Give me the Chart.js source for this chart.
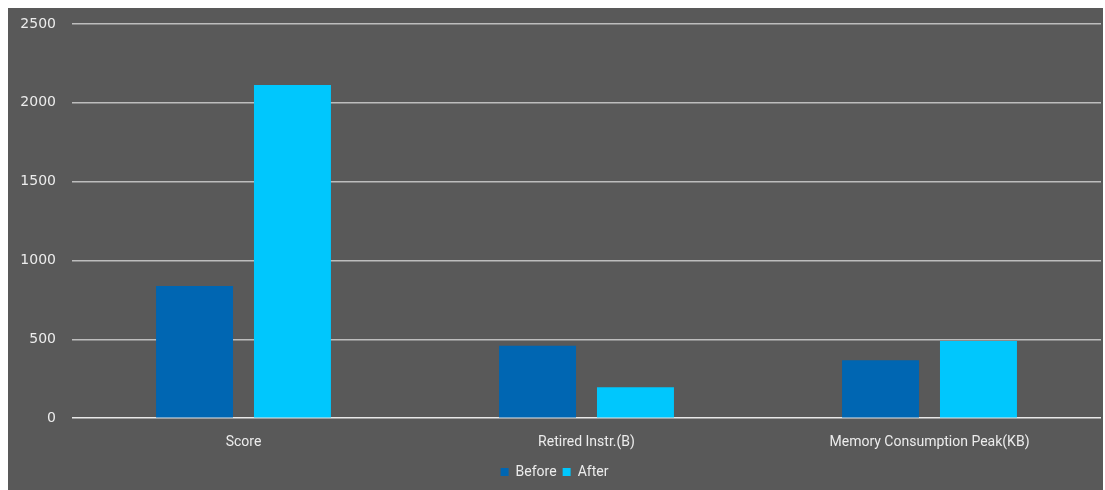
<!DOCTYPE html>
<html>
<head>
<meta charset="utf-8">
<script src="https://cdn.jsdelivr.net/npm/chart.js@4.4.1/dist/chart.umd.min.js"></script>
<style>
  html, body { margin: 0; padding: 0; background: #ffffff; }
  #wrap { position: absolute; left: 8px; top: 8px; width: 1095px; height: 482px; background: #595959; }
  canvas { display: block; }
</style>
</head>
<body>
<div id="wrap"><canvas id="chart"></canvas></div>
<script>
// ----------------------
// DATA
// ----------------------
const categories = ['Score', 'Retired Instr.(B)', 'Memory Consumption Peak(KB)'];
const beforeValues = [838, 459, 368];
const afterValues = [2113, 197, 489];
const seriesNames = ['Before', 'After'];
const yMax = 2500;
const yStep = 500;

// ----------------------
// CHART
// ----------------------
const textColor = '#ececec';
const gridColor = '#bdbdbd';

const ctx = document.getElementById('chart').getContext('2d');
new Chart(ctx, {
  type: 'bar',
  data: {
    labels: categories,
    datasets: [
      { label: seriesNames[0], data: beforeValues, backgroundColor: '#0066b2' },
      { label: seriesNames[1], data: afterValues, backgroundColor: '#00c7fd' }
    ]
  },
  options: {
    responsive: true,
    maintainAspectRatio: false,
    animation: false,
    layout: { padding: { left: 0, right: 2, top: 16, bottom: 1 } },
    datasets: { bar: { categoryPercentage: 0.571, barPercentage: 0.786 } },
    plugins: {
      tooltip: { enabled: false },
      legend: {
        position: 'bottom',
        labels: {
          color: textColor,
          font: { family: 'Roboto', size: 14 },
          boxWidth: 8,
          boxHeight: 8,
          padding: 6
        }
      }
    },
    scales: {
      x: {
        grid: { display: false },
        border: { display: false },
        ticks: { color: textColor, font: { family: 'Roboto', size: 14 }, padding: 8 }
      },
      y: {
        min: 0,
        max: yMax,
        border: { display: false },
        // fixed axis width, and drop the extra top/bottom room Chart.js reserves for labels
        afterFit: s => { s.width = 64; s.paddingTop = 0; s.paddingBottom = 0; },
        grid: {
          drawTicks: false,
          lineWidth: 1.5,
          color: c => (c.tick && c.tick.value === 0 ? '#e8e8e8' : gridColor)
        },
        ticks: {
          stepSize: yStep,
          color: textColor,
          font: { family: 'DejaVu Sans', size: 14 },
          padding: 16,
          callback: v => String(v)
        }
      }
    }
  }
});
</script>
</body>
</html>
